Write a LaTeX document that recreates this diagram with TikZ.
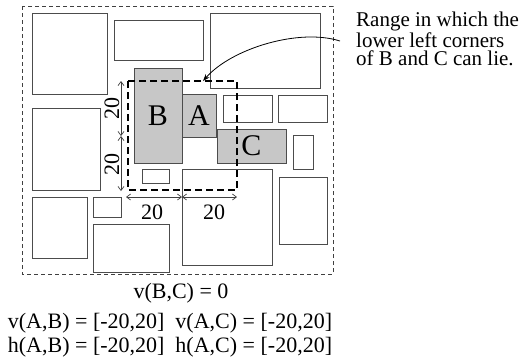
\documentclass[tikz,border=0pt]{standalone}
\usepackage{fontspec}
\setmainfont{Liberation Serif}
\usetikzlibrary{arrows.meta}
\begin{document}
\begin{tikzpicture}[x=1pt,y=-1pt,
  box/.style={draw=black!70,line width=0.9pt},
  part/.style={box,fill=black!22,inner sep=0pt,font=\fontsize{30}{30}\selectfont},
  cornerrange/.style={line width=2.4pt,dash pattern=on 7pt off 4pt},
  dim/.style={line width=0.7pt,black!75,{Straight Barb[length=4pt,width=6pt]}-{Straight Barb[length=4pt,width=6pt]}},
  lbl/.style={font=\fontsize{22}{25}\selectfont,inner sep=0pt}]
\useasboundingbox (0,0) rectangle (524,360);
\draw[black!75,line width=0.8pt,dash pattern=on 4pt off 3pt] (22,6) rectangle (333,274);
\foreach \xa/\ya/\xb/\yb in {32/13/107/94,114/20/203/60,210/13/320/88,223/95/272/122,
  278/95/327/122,32/108/100/190,142/169/169/183,293/135/313/169,32/197/87/258,
  93/197/121/217,93/224/169/272,182/169/272/265,279/177/327/244}{
\draw[box] (\xa,\ya) rectangle (\xb,\yb);}
% the three parts
\node[part,minimum width=48pt,minimum height=95pt] (B) at (158,115.5) {B};
\node[part,minimum width=34pt,minimum height=43pt] (A) at (199,115.5) {A};
\node[part,minimum width=69pt,minimum height=34pt] (C) at (251.5,146) {C};
% range of lower left corners
\coordinate (r1) at (128,81);
\coordinate (r2) at (237,190);
\draw[cornerrange] (r1) rectangle (r2);
\coordinate (v0) at (121,81);
\coordinate (v1) at (121,136);
\coordinate (v2) at (121,191);
\coordinate (h0) at (126,197);
\coordinate (h1) at (182,197);
\coordinate (h2) at (237,197);
\draw[dim] (v0)--(v1);
\draw[dim] (v1)--(v2);
\draw[dim] (h0)--(h1);
\draw[dim] (h1)--(h2);
\node[lbl,rotate=90] (dv1) at (112,108) {20};
\node[lbl,rotate=90] (dv2) at (112,164) {20};
\node[lbl] (dh1) at (152,212) {20};
\node[lbl] (dh2) at (214,212) {20};
% note
\node[lbl,align=left,anchor=north west,font=\fontsize{21}{18.5}\selectfont] (note) at (356,12)
  {Range in which the\\lower left corners\\of B and C can lie.};
\coordinate (tip) at (203,81);
\draw[line width=0.8pt,-{Stealth[length=7pt,width=5pt]}] ([xshift=-16pt,yshift=-2pt]note.west)
  .. controls (300,28) and (232,48) .. (tip);
% constraints
\node[lbl,anchor=base] (vbc) at (181,298) {v(B,C) = 0};
\node[lbl,anchor=base] (vab) at (170,328) {v(A,B) = [-20,20]\ \ v(A,C) = [-20,20]};
\node[lbl,anchor=base] (hab) at (170,352) {h(A,B) = [-20,20]\ \ h(A,C) = [-20,20]};
\end{tikzpicture}
\end{document}
